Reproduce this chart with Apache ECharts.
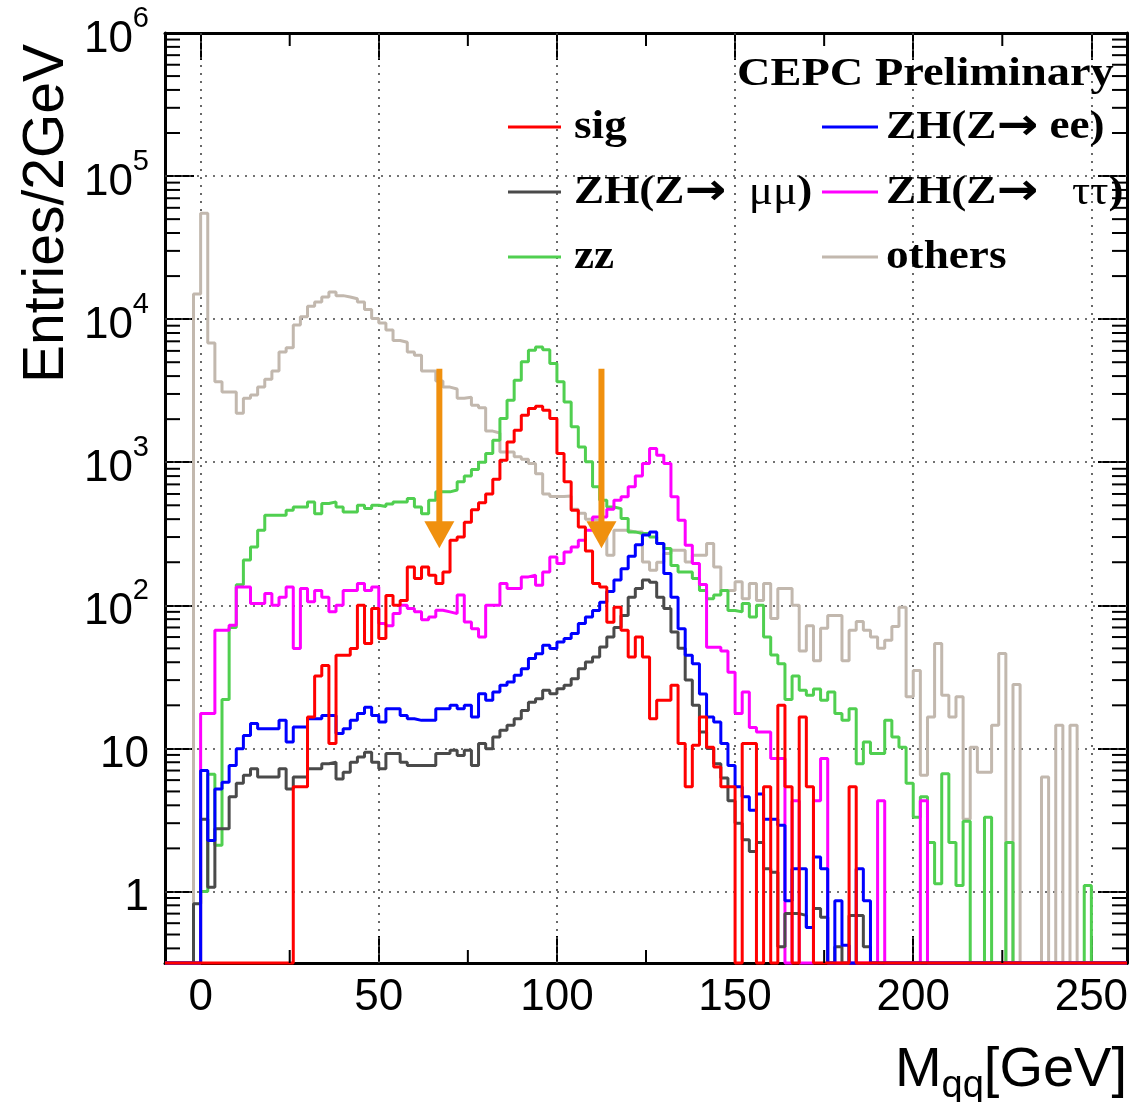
<!DOCTYPE html>
<html>
<head>
<meta charset="utf-8">
<script src="https://cdn.jsdelivr.net/npm/echarts@6/dist/echarts.min.js"></script>
<style>
html,body{margin:0;padding:0;background:#ffffff;}
#chart{width:1140px;height:1102px;}
</style>
</head>
<body>
<div id="chart"></div>
<script>
// ---------------- data (2 GeV bins, first bin starts at -10 GeV) ----------------
const BIN_START = -10;
const BIN_WIDTH = 2;
const X_MIN = -10, X_MAX = 260;
const Y_MIN = 0.3162, Y_MAX = 1e6;
const X_MAJOR = [0, 50, 100, 150, 200, 250];
const X_MINOR = [25, 75, 125, 175, 225];

const others = [
  0, 0, 0, 0, 15000, 55000, 6800, 3650, 3100, 3100,
  2200, 2800, 2950, 3350, 3800, 4350, 5900, 6300, 9100, 10400,
  12300, 13200, 14300, 15500, 14600, 14300, 13900, 13200, 11700, 10100,
  9400, 8400, 7100, 6900, 5900, 5600, 4350, 4350, 3700, 3350,
  3250, 2800, 2850, 2500, 2400, 1650, 1600, 1180, 1180, 1090,
  1050, 980, 830, 600, 575, 575, 580, 470, 440, 400,
  390, 330, 224, 334, 334, 325, 325, 201, 176, 200,
  230, 243, 243, 201, 224, 224, 270, 185, 127, 127,
  146, 111, 142, 108, 142, 81, 131, 131, 100, 48,
  72, 41, 69, 85, 85, 41, 67, 77, 67, 60,
  50, 57, 71, 97, 23, 35, 6.5, 16.6, 54, 23.5,
  16.6, 23, 3.2, 10.2, 6.8, 6.8, 14.5, 46, 0, 28,
  0, 0, 0, 6.3, 0, 14.5, 0, 14.5, 0, 0,
  0, 0, 0, 0, 0
];
const zz = [
  0, 0, 0, 0, 0, 1.0, 6.6, 2.1, 22, 70,
  139, 207, 256, 334, 426, 426, 426, 462, 487, 487,
  528, 437, 514, 528, 487, 449, 449, 500, 474, 500,
  490, 510, 528, 528, 557, 487, 437, 542, 621, 621,
  640, 730, 800, 890, 1000, 1150, 1426, 2020, 2716, 3743,
  5030, 6070, 6400, 6100, 4900, 3650, 2640, 1770, 1280, 1006,
  673, 542, 487, 474, 404, 326, 317, 317, 300, 270,
  249, 190, 171, 171, 154, 127, 111, 118, 127, 92,
  90, 103, 83, 100, 60, 45, 39, 22, 32, 25.5,
  23.5, 26, 21.7, 24.8, 17.5, 15.7, 18.9, 7.8, 11.1, 9.2,
  9.2, 15.7, 12, 10.2, 5.7, 3.3, 4.6, 2.2, 1.13, 6.65,
  2.2, 1.1, 3.1, 0, 0, 3.3, 0, 0, 2.2, 0,
  0, 0, 0, 0, 0, 0, 0, 0, 0, 1.1,
  0, 0, 0, 0, 0
];
const zhTauTau = [
  0, 0, 0, 0, 0, 17.5, 17.5, 66.9, 66.9, 72.4,
  134, 134, 103, 103, 121, 100, 114, 134, 49.8, 131,
  106, 127, 114, 90, 100, 127, 127, 142, 127, 134,
  74.5, 72, 87.5, 100, 95, 90, 79.4, 83, 92.3, 90,
  87.5, 118, 76.4, 68.7, 60.1, 100, 100, 142, 131, 131,
  158, 162, 138, 171, 218, 196, 236, 256, 285, 335,
  415, 415, 470, 543, 573, 673, 800, 980, 1248, 1120,
  980, 573, 393, 263, 196, 140, 51, 51, 48, 34,
  17.5, 24.8, 14, 13, 13, 8.5, 8.5, 0, 4.3, 0,
  0, 4.3, 8.5, 0, 0, 0, 0, 0, 0, 0,
  4.3, 0, 0, 0, 0, 0, 4.3, 0, 0, 0,
  0, 0, 0, 0, 0, 0, 0, 0, 0, 0,
  0, 0, 0, 0, 0, 0, 0, 0, 0, 0,
  0, 0, 0, 0, 0
];
const zhMuMu = [
  0, 0, 0, 0, 0.82, 3.2, 1.07, 2.74, 2.74, 4.6,
  5.7, 6.5, 7.2, 6.3, 6.3, 6.3, 7.2, 5.2, 6.3, 6.3,
  7.2, 7.2, 7.8, 8.0, 6.1, 6.8, 8.0, 8.7, 9.4, 8.0,
  7.2, 9.2, 9.2, 8.0, 7.6, 7.6, 7.6, 7.6, 9.2, 9.2,
  9.7, 8.9, 9.7, 7.6, 10.8, 9.95, 12, 13.4, 14.5, 16.1,
  18.4, 21, 22.2, 25.5, 24.1, 26.1, 27.6, 30.7, 36, 40.2,
  43.5, 51.2, 60, 70, 85, 114, 131, 150, 145, 114,
  95, 65, 50, 30, 20, 13, 10, 7.8, 6.2, 4.3,
  3.0, 2.3, 1.9, 2.2, 1.44, 1.36, 0.41, 0.7, 0.7, 0.68,
  0.56, 0.76, 0.66, 0, 0.41, 0, 0.68, 0.68, 0.41, 0,
  0, 0, 0, 0, 0, 0, 0, 0, 0, 0,
  0, 0, 0, 0, 0, 0, 0, 0, 0, 0,
  0, 0, 0, 0, 0, 0, 0, 0, 0, 0,
  0, 0, 0, 0, 0
];
const zhEE = [
  0, 0, 0, 0, 0, 7.0, 2.27, 5.2, 5.8, 7.6,
  9.95, 12.3, 14.9, 13.7, 13.7, 13.7, 15.7, 11.1, 14.1, 14.1,
  16.1, 16.1, 17, 17, 12.7, 13.7, 15.7, 17.5, 19.4, 17,
  15.3, 18.9, 18.9, 17, 16.1, 15.7, 15.7, 15.7, 18.9, 18.9,
  20, 18.9, 20, 16.6, 24.1, 21.7, 24.8, 27.6, 29.1, 32.4,
  36, 42.4, 45.9, 52.5, 49.8, 55.5, 58.5, 63.4, 74.5, 83,
  92, 105, 125, 150, 180, 220, 265, 310, 326, 270,
  167, 114, 68.7, 44.8, 39, 24, 16.6, 15.3, 10.8, 7.6,
  5.4, 4.6, 3.7, 4.8, 3.2, 3.2, 2.9, 0.86, 1.44, 1.44,
  0.56, 1.74, 1.44, 0, 0.86, 0.42, 0, 1.44, 0.86, 0,
  0, 0, 0, 0, 0, 0, 0, 0, 0, 0,
  0, 0, 0, 0, 0, 0, 0, 0, 0, 0,
  0, 0, 0, 0, 0, 0, 0, 0, 0, 0,
  0, 0, 0, 0, 0
];
const sig = [
  0, 0, 0, 0, 0, 0, 0, 0, 0, 0,
  0, 0, 0, 0, 0, 0, 0, 0, 5.4, 5.4,
  16.6, 32, 38, 10.8, 44.7, 44.7, 49.8, 100, 54, 95,
  58.5, 117, 100, 108, 185, 154, 185, 162, 142, 171,
  285, 300, 380, 465, 520, 600, 760, 1032, 1387, 1674,
  2131, 2374, 2464, 2310, 2020, 1150, 729, 461, 352, 240,
  142, 134, 76, 97, 67, 43.5, 60, 43.5, 16.1, 21.7,
  21.7, 27.6, 10.8, 5.4, 10.5, 16.6, 10.2, 7.4, 5.4, 5.4,
  0, 10.8, 10.8, 0, 5.4, 0, 20, 5.4, 0, 16.6,
  5.4, 0, 0, 0, 0, 0, 5.4, 0, 0, 0,
  0, 0, 0, 0, 0, 0, 0, 0, 0, 0,
  0, 0, 0, 0, 0, 0, 0, 0, 0, 0,
  0, 0, 0, 0, 0, 0, 0, 0, 0, 0,
  0, 0, 0, 0, 0
];

// cut arrows: [x (GeV), tail value, tip value]
const ARROWS = [[67, 4500, 250], [112.5, 4500, 250]];

// ---------------- styles ----------------
const SANS = 'Liberation Sans';
const SERIF = 'Liberation Serif';
const C_SIG = '#ff0000', C_EE = '#0000ff', C_MUMU = '#4a4a4a', C_TAU = '#ff00ff', C_ZZ = '#50cf50', C_OTH = '#c2b8ae';
const C_ARROW = '#f0900e';

const SERIES = [
  {name: 'others', values: others, color: C_OTH},
  {name: 'zz', values: zz, color: C_ZZ},
  {name: 'ZH(Z→ ττ)', values: zhTauTau, color: C_TAU},
  {name: 'ZH(Z→ μμ)', values: zhMuMu, color: C_MUMU},
  {name: 'ZH(Z→ ee)', values: zhEE, color: C_EE},
  {name: 'sig', values: sig, color: C_SIG}
];

function histPoints(vals) {
  const pts = vals.map((v, i) => [BIN_START + i * BIN_WIDTH, v > 0 ? v : Y_MIN]);
  pts.push([BIN_START + vals.length * BIN_WIDTH, pts[pts.length - 1][1]]);
  return pts;
}

// minor log ticks (2..9 per decade) and half-way x ticks
const Y_MINOR = [];
for (let e = -1; e < 6; e++) {
  for (let m = 2; m <= 9; m++) {
    const v = m * Math.pow(10, e);
    if (v > Y_MIN && v < Y_MAX) Y_MINOR.push(v);
  }
}
const tickData = Y_MINOR.map(v => [X_MIN, v, 0]).concat(X_MINOR.map(v => [v, Y_MIN, 1]));

function yLabel(v) {
  const e = Math.log10(v);
  const r = Math.round(e);
  if (Math.abs(e - r) > 1e-6) return '';
  if (r === 0) return '{b|1}';
  if (r === 1) return '{b|10}';
  return '{b|10}{s|' + r + '}';
}

const axisLineStyle = {show: true, onZero: false, lineStyle: {color: '#000', width: 3}};
const baseX = {type: 'value', min: X_MIN, max: X_MAX, splitNumber: 5, splitLine: {show: false}};
const baseY = {type: 'log', logBase: 10, min: Y_MIN, max: Y_MAX, splitNumber: 7, splitLine: {show: false}};
const majorXTick = {show: true, inside: true, length: 27, lineStyle: {color: '#000', width: 2}, customValues: X_MAJOR};
const majorYTick = {show: true, inside: true, length: 29, lineStyle: {color: '#000', width: 2}};

const lineSeries = SERIES.map(s => ({
  name: s.name,
  type: 'line',
  step: 'end',
  data: histPoints(s.values),
  showSymbol: false,
  symbol: 'none',
  clip: false,
  silent: true,
  z: 3,
  lineStyle: {color: s.color, width: 3},
  itemStyle: {color: s.color},
  emphasis: {disabled: true}
}));

// legend layout
const LEG_LINE = [[508, 561], [822, 878]];
const LEG_TEXT_X = [574, 886];
const LEG_ROW_Y = [127, 192, 257];
const LEG_SCALE = 1.13;
const LEG_ITEMS = [
  {col: 0, row: 0, color: C_SIG, text: '{b|sig}'},
  {col: 1, row: 0, color: C_EE, text: '{b|ZH(Z}{a|→}{b| ee)}'},
  {col: 0, row: 1, color: C_MUMU, text: '{b|ZH(Z}{a|→}{r|  μμ}{b|)}'},
  {col: 1, row: 1, color: C_TAU, text: '{b|ZH(Z}{a|→}{r|   ττ}{b|)}'},
  {col: 0, row: 2, color: C_ZZ, text: '{b|zz}'},
  {col: 1, row: 2, color: C_OTH, text: '{b|others}'}
];
const legRich = {
  b: {fontFamily: SERIF, fontWeight: 'bold', fontSize: 40, fill: '#000'},
  r: {fontFamily: SERIF, fontWeight: 'normal', fontSize: 40, fill: '#000'},
  a: {fontFamily: 'DejaVu Sans', fontWeight: 'bold', fontSize: 44, fill: '#000'}
};
const graphics = [];
LEG_ITEMS.forEach(it => {
  const y = LEG_ROW_Y[it.row];
  graphics.push({type: 'line', silent: true, z: 10,
    shape: {x1: LEG_LINE[it.col][0], y1: y, x2: LEG_LINE[it.col][1], y2: y},
    style: {stroke: it.color, lineWidth: 3}});
  graphics.push({type: 'text', silent: true, z: 10, x: LEG_TEXT_X[it.col], y: y + 1, scaleX: LEG_SCALE,
    style: {text: it.text, rich: legRich, align: 'left', verticalAlign: 'middle', textAlign: 'left', textVerticalAlign: 'middle'}});
});
graphics.push({type: 'text', silent: true, z: 10, x: 737, y: 75, scaleX: 1.16,
  style: {text: 'CEPC Preliminary', fontFamily: SERIF, fontWeight: 'bold', fontSize: 40, fill: '#000',
    align: 'left', verticalAlign: 'middle', textAlign: 'left', textVerticalAlign: 'middle'}});
graphics.push({type: 'text', silent: true, z: 10, x: 47, y: 44, rotation: Math.PI / 2,
  style: {text: 'Entries/2GeV', fontFamily: SANS, fontSize: 57, fill: '#000',
    align: 'right', verticalAlign: 'middle', textAlign: 'right', textVerticalAlign: 'middle'}});
graphics.push({type: 'text', silent: true, z: 10, x: 1127, y: 1074,
  style: {text: '{m|M}{s|qq}{m|[GeV]}',
    rich: {
      m: {fontFamily: SANS, fontSize: 56, fill: '#000', verticalAlign: 'bottom', padding: [0, 0, 7, 0]},
      s: {fontFamily: SANS, fontSize: 38, fill: '#000', verticalAlign: 'bottom'}
    },
    align: 'right', verticalAlign: 'middle', textAlign: 'right', textVerticalAlign: 'middle'}});

const option = {
  animation: false,
  backgroundColor: '#ffffff',
  textStyle: {fontFamily: SANS},
  grid: {left: 165, top: 33, width: 962, height: 930, containLabel: false},
  xAxis: [
    Object.assign({}, baseX, {position: 'bottom', axisLine: axisLineStyle, axisTick: majorXTick,
      axisLabel: {show: true, customValues: X_MAJOR, margin: 13, fontSize: 44, fontFamily: SANS, color: '#000',
        formatter: v => (v % 50 === 0 ? String(v) : '')}}),
    Object.assign({}, baseX, {position: 'top', axisLine: axisLineStyle, axisTick: majorXTick, axisLabel: {show: false}})
  ],
  yAxis: [
    Object.assign({}, baseY, {position: 'left', axisLine: axisLineStyle, axisTick: majorYTick,
      axisLabel: {show: true, margin: 16, formatter: yLabel,
        rich: {
          b: {fontSize: 44, fontFamily: SANS, color: '#000', padding: [13, 0, 0, 0]},
          s: {fontSize: 29, fontFamily: SANS, color: '#000', verticalAlign: 'top'}
        }}}),
    Object.assign({}, baseY, {position: 'right', axisLine: axisLineStyle, axisTick: majorYTick, axisLabel: {show: false}})
  ],
  graphic: {elements: graphics},
  series: [
    {
      type: 'line', name: 'grid', data: [], silent: true, z: 1,
      markLine: {
        silent: true, z: 1, symbol: ['none', 'none'], animation: false,
        label: {show: false},
        lineStyle: {color: '#444', width: 1.6, type: [2, 6]},
        emphasis: {disabled: true},
        data: X_MAJOR.map(v => ({xAxis: v})).concat([1, 10, 100, 1000, 10000, 100000].map(v => ({yAxis: v})))
      }
    }
  ].concat(lineSeries).concat([
    {
      type: 'custom', name: 'minor ticks', silent: true, z: 4, data: tickData,
      renderItem: function (params, api) {
        const kind = api.value(2);
        if (kind === 0) {
          const v = api.value(1);
          const l = api.coord([X_MIN, v]);
          const r = api.coord([X_MAX, v]);
          return {type: 'group', children: [
            {type: 'line', shape: {x1: l[0], y1: l[1], x2: l[0] + 15, y2: l[1]}, style: {stroke: '#000', lineWidth: 2}},
            {type: 'line', shape: {x1: r[0] - 15, y1: r[1], x2: r[0], y2: r[1]}, style: {stroke: '#000', lineWidth: 2}}
          ]};
        }
        const xv = api.value(0);
        const b = api.coord([xv, Y_MIN]);
        const t = api.coord([xv, Y_MAX]);
        return {type: 'group', children: [
          {type: 'line', shape: {x1: b[0], y1: b[1], x2: b[0], y2: b[1] - 13}, style: {stroke: '#000', lineWidth: 2}},
          {type: 'line', shape: {x1: t[0], y1: t[1], x2: t[0], y2: t[1] + 13}, style: {stroke: '#000', lineWidth: 2}}
        ]};
      }
    },
    {
      type: 'custom', name: 'cuts', silent: true, z: 5, data: ARROWS,
      renderItem: function (params, api) {
        const x = api.value(0);
        const top = api.coord([x, api.value(1)]);
        const tip = api.coord([x, api.value(2)]);
        const headH = 27, headW = 15, shaftW = 6;
        return {type: 'group', children: [
          {type: 'rect', shape: {x: top[0] - shaftW / 2, y: top[1], width: shaftW, height: tip[1] - headH - top[1] + 1},
            style: {fill: C_ARROW}},
          {type: 'polygon', shape: {points: [[tip[0] - headW, tip[1] - headH], [tip[0] + headW, tip[1] - headH], [tip[0], tip[1]]]},
            style: {fill: C_ARROW}}
        ]};
      }
    }
  ])
};

const chart = echarts.init(document.getElementById('chart'), null, {renderer: 'canvas'});
chart.setOption(option);
</script>
</body>
</html>
